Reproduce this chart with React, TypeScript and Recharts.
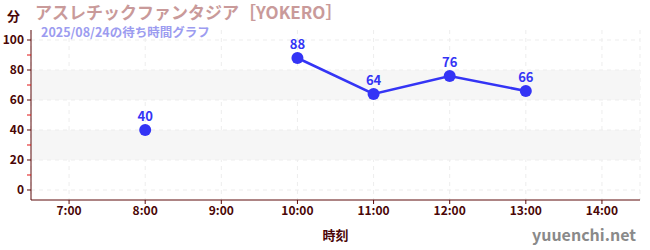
import React from "react";
import {
  CartesianGrid,
  LabelList,
  Line,
  LineChart,
  ReferenceArea,
  ReferenceLine,
  XAxis,
  YAxis,
} from "recharts";

// waits in minutes, hours with no reading are null
const hours = [8, 9, 10, 11, 12, 13];
const waits = [40, null, 88, 64, 76, 66];

const hourTicks = [7, 8, 9, 10, 11, 12, 13, 14];
const waitTicks = [0, 10, 20, 30, 40, 50, 60, 70, 80, 90, 100];
const gridValues = [0, 20, 40, 60, 80, 100];
const bands = [
  [20, 40],
  [60, 80],
];

const data = hours.map((h, i) => ({ hour: h, wait: waits[i] }));

const FONT = "'Noto Sans CJK JP', 'Noto Sans', sans-serif";
const AXIS = "#5c0a0a";
const BLUE = "#3434f5";
const GRID = "#ededed";

const TICK_SIZE = 4;
const TICK_MARGIN = 3;

const WaitTick = (props: any) => {
  const { x, y, payload } = props;
  const major = payload.value % 20 === 0;
  return (
    <g>
      <line
        x1={x + TICK_MARGIN}
        x2={x + TICK_MARGIN + TICK_SIZE}
        y1={y}
        y2={y}
        stroke={major ? AXIS : "#e01010"}
        strokeWidth={1}
      />
      {major && (
        <text
          x={x}
          y={y}
          dy="0.35em"
          textAnchor="end"
          fill="#4a0606"
          fontSize={12}
          fontWeight={600}
          fontFamily={FONT}
        >
          {payload.value}
        </text>
      )}
    </g>
  );
};

const App = () => {
  return (
    <div
      style={{
        position: "absolute",
        left: 0,
        top: 0,
        width: 650,
        height: 250,
        background: "#fff",
        fontFamily: FONT,
      }}
    >
      <LineChart
        width={650}
        height={250}
        data={data}
        margin={{ top: 30, right: 10, left: 0, bottom: 0 }}
      >
        {bands.map(([a, b]) => (
          <ReferenceArea
            key={a}
            y1={a}
            y2={b}
            fill="#f6f6f6"
            fillOpacity={1}
            stroke="none"
          />
        ))}
        <CartesianGrid horizontal={false} stroke={GRID} strokeDasharray="4 4" />
        {gridValues.map((v) => (
          <ReferenceLine key={v} y={v} stroke={GRID} strokeDasharray="4 4" />
        ))}
        <XAxis
          dataKey="hour"
          type="number"
          domain={[6.5, 14.5]}
          ticks={hourTicks}
          tickFormatter={(h) => `${h}:00`}
          height={50}
          stroke={AXIS}
          tickSize={4}
          tick={{ fill: "#4a0606", fontSize: 12, fontWeight: 600, fontFamily: FONT }}
          label={{
            value: "時刻",
            position: "insideBottom",
            offset: 10,
            fill: "#4a0606",
            fontSize: 13,
            fontWeight: 700,
            fontFamily: FONT,
          }}
        />
        <YAxis
          type="number"
          domain={[-6.67, 106.67]}
          ticks={waitTicks}
          interval={0}
          width={31}
          stroke={AXIS}
          tickLine={false}
          tickSize={TICK_SIZE}
          tickMargin={TICK_MARGIN}
          tick={<WaitTick />}
        />
        <Line
          type="linear"
          dataKey="wait"
          stroke={BLUE}
          strokeWidth={2.5}
          dot={{ r: 6, fill: BLUE, stroke: BLUE, strokeWidth: 0 }}
          activeDot={false}
          isAnimationActive={false}
        >
          <LabelList
            dataKey="wait"
            position="top"
            offset={9}
            fill={BLUE}
            fontSize={13}
            fontWeight={700}
            fontFamily={FONT}
          />
        </Line>
      </LineChart>
      <div
        style={{
          position: "absolute",
          left: 7,
          top: 6,
          fontSize: 13,
          fontWeight: 700,
          color: "#4a0606",
        }}
      >
        分
      </div>
      <div
        style={{
          position: "absolute",
          left: 35,
          top: 2,
          fontSize: 17,
          fontWeight: 700,
          color: "#c99a9a",
          whiteSpace: "nowrap",
          lineHeight: "20px",
        }}
      >
        アスレチックファンタジア［YOKERO］
      </div>
      <div
        style={{
          position: "absolute",
          left: 41,
          top: 25,
          fontSize: 12.5,
          fontWeight: 700,
          color: "#9c9cf0",
          whiteSpace: "nowrap",
          lineHeight: "14px",
        }}
      >
        2025/08/24の待ち時間グラフ
      </div>
      <div
        style={{
          position: "absolute",
          right: 14,
          top: 222,
          fontSize: 16,
          fontWeight: 600,
          color: "#8a8a8a",
        }}
      >
        yuuenchi.net
      </div>
    </div>
  );
};

export default App;
